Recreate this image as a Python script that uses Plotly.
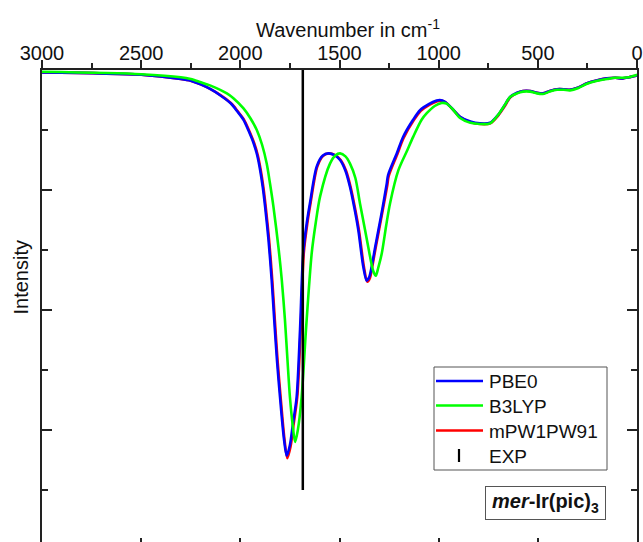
import plotly.graph_objects as go

# ---- data (wavenumber in cm^-1, relative intensity) ----
pbe0_wn = [3000, 2500, 2300, 2250, 2200, 2150, 2102, 2050, 2034, 2018, 1984, 1960, 1933, 1915, 1900,
           1887, 1875, 1858, 1842, 1829, 1815, 1800, 1780, 1766, 1750, 1735, 1716, 1699, 1683, 1665,
           1649, 1615, 1585, 1556, 1525, 1497, 1470, 1447, 1425, 1405, 1380, 1363, 1350, 1338, 1320,
           1304, 1283, 1262, 1255, 1210, 1180, 1129, 1094, 1050, 1010, 995, 968, 930, 892, 840, 792,
           741, 701, 670, 640, 605, 575, 539, 505, 474, 440, 403, 370, 338, 295, 252, 200, 151, 110,
           71, 40, 10, 0]
pbe0_int = [-0.04, -0.08, -0.15, -0.18, -0.24, -0.32, -0.42, -0.55, -0.61, -0.68, -0.83, -1.0, -1.22, -1.42, -1.67,
            -1.95, -2.28, -2.83, -3.5, -4.17, -4.85, -5.45, -6.15, -6.43, -6.25, -5.9, -5.45, -4.33, -3.05, -2.55,
            -2.22, -1.61, -1.43, -1.39, -1.42, -1.5, -1.68, -1.95, -2.3, -2.67, -3.28, -3.51, -3.45, -3.28, -2.95,
            -2.67, -2.3, -1.9, -1.75, -1.38, -1.12, -0.83, -0.67, -0.57, -0.51, -0.5, -0.53, -0.65, -0.78, -0.86, -0.89,
            -0.88, -0.75, -0.6, -0.45, -0.38, -0.35, -0.35, -0.38, -0.39, -0.35, -0.32, -0.32, -0.33, -0.29, -0.22, -0.17, -0.14, -0.13,
            -0.14, -0.12, -0.10, -0.09]

b3lyp_wn = [3000, 2500, 2300, 2250, 2203, 2150, 2068, 2035, 1984, 1950, 1917, 1890, 1867, 1850, 1833,
            1808, 1791, 1775, 1762, 1750, 1735, 1724, 1710, 1691, 1669, 1640, 1620, 1598, 1548, 1520,
            1497, 1470, 1447, 1420, 1397, 1375, 1355, 1330, 1317, 1305, 1287, 1265, 1245, 1203, 1160,
            1128, 1086, 1060, 1020, 985, 960, 930, 892, 840, 792, 741, 701, 670, 640, 605, 575, 539,
            505, 474, 440, 403, 370, 338, 295, 252, 200, 151, 110, 71, 40, 10, 0]
b3lyp_int = [-0.03, -0.07, -0.12, -0.15, -0.2, -0.26, -0.39, -0.47, -0.64, -0.8, -1.0, -1.25, -1.56, -1.9, -2.28,
             -2.95, -3.5, -4.17, -4.85, -5.45, -5.95, -6.2, -6.0, -5.45, -4.33, -3.05, -2.55, -2.11, -1.56, -1.42,
             -1.39, -1.44, -1.56, -1.8, -2.22, -2.6, -2.95, -3.35, -3.43, -3.3, -3.06, -2.6, -2.22, -1.67, -1.35,
             -1.11, -0.83, -0.72, -0.6, -0.55, -0.56, -0.65, -0.8, -0.88, -0.9, -0.89, -0.75, -0.6, -0.45, -0.39, -0.36, -0.36,
             -0.39, -0.40, -0.36, -0.33, -0.33, -0.34, -0.30, -0.23, -0.18, -0.15, -0.13, -0.13, -0.12, -0.09, -0.08]

mpw_wn = [3000, 2500, 2300, 2250, 2200, 2150, 2100, 2048, 2031, 2015, 1981, 1957, 1930, 1912, 1897,
          1884, 1872, 1855, 1839, 1826, 1812, 1797, 1777, 1763, 1747, 1732, 1713, 1696, 1680, 1662,
          1646, 1612, 1582, 1553, 1522, 1494, 1467, 1444, 1422, 1402, 1377, 1360, 1347, 1335, 1317,
          1301, 1280, 1259, 1252, 1208, 1178, 1126, 1090, 1047, 1007, 992, 965, 928, 890, 838, 790,
          740, 700, 668, 640, 604, 575, 539, 505, 474, 440, 403, 370, 338, 295, 252, 200, 151, 110,
          71, 40, 10, 0]
mpw_int = [-0.04, -0.08, -0.15, -0.18, -0.24, -0.32, -0.42, -0.55, -0.61, -0.68, -0.83, -1.0, -1.22, -1.42, -1.67,
           -1.95, -2.28, -2.83, -3.5, -4.17, -4.85, -5.45, -6.17, -6.47, -6.28, -5.92, -5.45, -4.33, -3.05, -2.55,
           -2.22, -1.61, -1.43, -1.39, -1.42, -1.5, -1.68, -1.95, -2.3, -2.67, -3.28, -3.53, -3.47, -3.28, -2.95,
           -2.67, -2.3, -1.92, -1.77, -1.40, -1.14, -0.84, -0.68, -0.58, -0.52, -0.51, -0.54, -0.66, -0.79, -0.87, -0.90,
           -0.89, -0.76, -0.61, -0.46, -0.38, -0.35, -0.35, -0.38, -0.39, -0.35, -0.32, -0.32, -0.33, -0.29, -0.22, -0.17, -0.14, -0.13,
           -0.14, -0.12, -0.10, -0.09]

exp_wn = [1685, 1685]
exp_int = [0.0, -7.0]

series_names = ["PBE0", "B3LYP", "mPW1PW91", "EXP"]
series_colors = ["#0000FF", "#00FF00", "#FF0000", "#000000"]

x_ticks = [3000, 2500, 2000, 1500, 1000, 500, 0]
x_ticklabels = ["3000", "2500", "2000", "1500", "1000", "500", "0"]

FONT = "Liberation Sans, Arial, sans-serif"
AX = "#222222"
TXT = "#111111"

# pixel -> paper helpers (plot area: x 42..637, y 70..542)
def px(x):
    return (x - 42) / 595

def py(y):
    return (542 - y) / 472

fig = go.Figure()
line_kw = dict(shape="spline", smoothing=0.8, width=2.6)
fig.add_trace(go.Scatter(x=mpw_wn, y=mpw_int, mode="lines", name=series_names[2],
                         line=dict(color=series_colors[2], **line_kw)))
fig.add_trace(go.Scatter(x=pbe0_wn, y=pbe0_int, mode="lines", name=series_names[0],
                         line=dict(color=series_colors[0], **line_kw)))
fig.add_trace(go.Scatter(x=b3lyp_wn, y=b3lyp_int, mode="lines", name=series_names[1],
                         line=dict(color=series_colors[1], **line_kw)))
fig.add_trace(go.Scatter(x=exp_wn, y=exp_int, mode="lines", name=series_names[3],
                         xaxis="x2", line=dict(color=series_colors[3], width=2.5)))

# ---- legend box drawn as shapes + text ----
shapes = [dict(type="rect", xref="paper", yref="paper", x0=px(434), x1=px(607), y0=py(470), y1=py(367),
               line=dict(color="#555555", width=1), fillcolor="white", layer="above")]
annotations = []
row_y = [381, 405.5, 430.5, 455.5]
for i, name in enumerate(series_names):
    if i < 3:
        shapes.append(dict(type="line", xref="paper", yref="paper", x0=px(436), x1=px(483),
                           y0=py(row_y[i]), y1=py(row_y[i]),
                           line=dict(color=series_colors[i], width=2.6), layer="above"))
    else:
        shapes.append(dict(type="line", xref="paper", yref="paper", x0=px(459), x1=px(459),
                           y0=py(row_y[i] + 6.5), y1=py(row_y[i] - 6.5),
                           line=dict(color=series_colors[i], width=2.2), layer="above"))
    annotations.append(dict(text=name, xref="paper", yref="paper", x=px(487), y=py(row_y[i] + 0.5),
                            xanchor="left", yanchor="middle", showarrow=False,
                            font=dict(size=19, family=FONT, color=TXT)))

annotations += [
    dict(text="Wavenumber in cm<sup>-1</sup>", xref="paper", yref="paper",
         x=px(348), y=py(28), xanchor="center", yanchor="middle",
         showarrow=False, font=dict(size=20, family=FONT, color=TXT)),
    dict(text="Intensity", xref="paper", yref="paper", textangle=-90,
         x=px(20.5), y=py(277), xanchor="center", yanchor="middle",
         showarrow=False, font=dict(size=20, family=FONT, color=TXT)),
    dict(text="<b><i>mer</i>-Ir(pic)<sub>3</sub></b>", xref="paper", yref="paper",
         x=px(545.5), y=py(503), xanchor="center", yanchor="middle",
         width=111, height=24, align="center",
         showarrow=False, bgcolor="white", bordercolor="#555555", borderwidth=1, borderpad=4,
         font=dict(size=20, family=FONT, color=TXT)),
]

fig.update_layout(
    width=643, height=542,
    margin=dict(l=42, r=6, t=70, b=0, autoexpand=False),
    paper_bgcolor="white", plot_bgcolor="white",
    font=dict(family=FONT, size=20, color=TXT),
    showlegend=False,
    xaxis=dict(range=[3000, 0], side="top", tickvals=x_ticks, ticktext=x_ticklabels,
               ticks="outside", ticklen=8, tickwidth=1.5, tickcolor=AX, ticklabelstandoff=-8,
               minor=dict(dtick=250, tick0=0, ticks="outside", ticklen=5, tickwidth=1.5, tickcolor=AX),
               showline=True, linecolor=AX, linewidth=1.8, mirror=False,
               showgrid=False, zeroline=False, tickfont=dict(size=20, family=FONT, color=TXT)),
    xaxis2=dict(range=[3000, 0], overlaying="x", side="bottom", anchor="y",
                tickvals=x_ticks, ticks="inside", ticklen=4, tickwidth=1.5, tickcolor=AX,
                showticklabels=False, showline=False, showgrid=False, zeroline=False),
    yaxis=dict(range=[-472 / 60, 0], tick0=0, dtick=2, ticks="inside", ticklen=10, tickwidth=1.5,
               tickcolor=AX, showticklabels=False,
               minor=dict(dtick=1, tick0=0, ticks="inside", ticklen=6, tickwidth=1.5, tickcolor=AX),
               showline=True, linecolor=AX, linewidth=1.8, mirror="ticks",
               showgrid=False, zeroline=False),
    shapes=shapes,
    annotations=annotations,
)

fig.write_html("out.html", config={"displayModeBar": False},
               post_script="document.body.style.margin='0';")
